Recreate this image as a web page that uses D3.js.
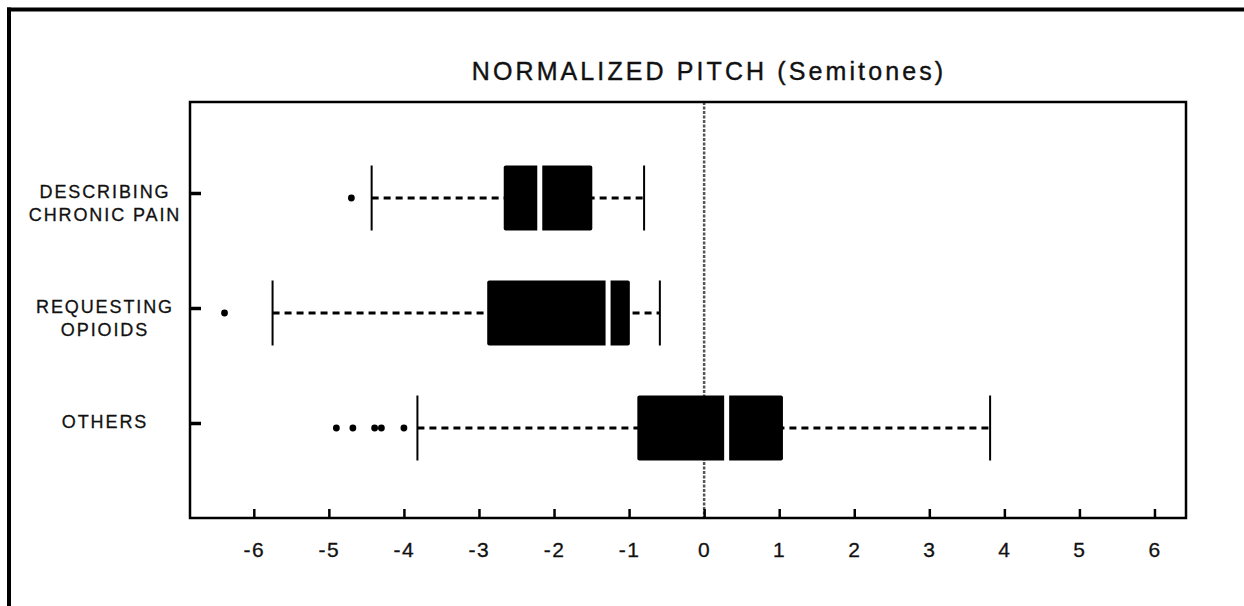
<!DOCTYPE html>
<html>
<head>
<meta charset="utf-8">
<script src="https://cdn.jsdelivr.net/npm/d3@7"></script>
<style>
  html, body { margin: 0; padding: 0; background: #fff; }
  svg { display: block; }
  text { font-family: "Liberation Sans", Arial, Helvetica, sans-serif; fill: #111; }
</style>
</head>
<body>
<svg id="chart" width="1244" height="606"></svg>
<script>
// ---- data ----
const categories = ["DESCRIBING CHRONIC PAIN", "REQUESTING OPIOIDS", "OTHERS"];
const labelLines = [["DESCRIBING", "CHRONIC PAIN"], ["REQUESTING", "OPIOIDS"], ["OTHERS"]];
const whiskerLow  = [-4.43, -5.75, -3.82];
const q1          = [-2.67, -2.89, -0.89];
const medians     = [-2.19, -1.28, 0.30];
const q3          = [-1.49, -0.99, 1.05];
const whiskerHigh = [-0.80, -0.59, 3.81];
const outliers    = [[-4.70], [-6.39], [-4.90, -4.68, -4.39, -4.30, -4.00]];
const xTicks      = [-6, -5, -4, -3, -2, -1, 0, 1, 2, 3, 4, 5, 6];
const title       = "NORMALIZED PITCH (Semitones)";

const svg = d3.select("#chart");
const plot = { left: 190, right: 1186, top: 102, bottom: 518 };

const x = d3.scaleLinear().domain([-6.85, 6.42]).range([plot.left, plot.right]);
const y = d3.scalePoint().domain(categories).range([193, 423]);
const boxH = 65, boxOff = 5;

// outer figure frame (top + left)
svg.append("line").attr("x1", 7).attr("x2", 1244).attr("y1", 9.5).attr("y2", 9.5)
  .attr("stroke", "#000").attr("stroke-width", 4);
svg.append("line").attr("x1", 9).attr("x2", 9).attr("y1", 7.5).attr("y2", 606)
  .attr("stroke", "#000").attr("stroke-width", 4);

// title
svg.append("text").attr("x", 709).attr("y", 80).attr("text-anchor", "middle")
  .style("font-size", "25px").style("letter-spacing", "3.1px")
  .style("stroke", "#111").style("stroke-width", "0.4px").text(title);

// zero reference line
svg.append("line").attr("x1", x(0)).attr("x2", x(0)).attr("y1", plot.top).attr("y2", plot.bottom)
  .attr("stroke", "#555").attr("stroke-width", 2.5).attr("stroke-dasharray", "3,1.5");

const data = categories.map((c, i) => ({
  cat: c, lines: labelLines[i], lo: whiskerLow[i], q1: q1[i], med: medians[i],
  q3: q3[i], hi: whiskerHigh[i], out: outliers[i]
}));

const g = svg.append("g").selectAll("g").data(data).join("g");

// dashed whiskers
g.append("line").attr("x1", d => x(d.lo)).attr("x2", d => x(d.hi))
  .attr("y1", d => y(d.cat) + boxOff).attr("y2", d => y(d.cat) + boxOff)
  .attr("stroke", "#000").attr("stroke-width", 3.2).attr("stroke-dasharray", "7,5");
// whisker caps
g.selectAll("line.cap").data(d => [d.lo, d.hi].map(v => ({ v, cat: d.cat }))).join("line")
  .attr("class", "cap")
  .attr("x1", e => x(e.v)).attr("x2", e => x(e.v))
  .attr("y1", e => y(e.cat) + boxOff - boxH / 2).attr("y2", e => y(e.cat) + boxOff + boxH / 2)
  .attr("stroke", "#000").attr("stroke-width", 2);
// boxes
g.append("rect").attr("x", d => x(d.q1)).attr("width", d => x(d.q3) - x(d.q1))
  .attr("y", d => y(d.cat) + boxOff - boxH / 2).attr("height", boxH)
  .attr("rx", 2).attr("fill", "#000");
// median (white gap)
g.append("line").attr("x1", d => x(d.med)).attr("x2", d => x(d.med))
  .attr("y1", d => y(d.cat) + boxOff - boxH / 2 - 1).attr("y2", d => y(d.cat) + boxOff + boxH / 2 + 1)
  .attr("stroke", "#fff").attr("stroke-width", 5);
// outliers
g.selectAll("circle").data(d => d.out.map(v => ({ v, cat: d.cat }))).join("circle")
  .attr("cx", e => x(e.v)).attr("cy", e => y(e.cat) + boxOff).attr("r", 3.4).attr("fill", "#000");

// plot frame
svg.append("rect").attr("x", plot.left).attr("y", plot.top)
  .attr("width", plot.right - plot.left).attr("height", plot.bottom - plot.top)
  .attr("fill", "none").attr("stroke", "#000").attr("stroke-width", 2.5);

// x axis (ticks pointing inward)
const xAxis = d3.axisBottom(x).tickValues(xTicks).tickSizeInner(-9).tickSizeOuter(0).tickPadding(0)
  .tickFormat(d3.format("d"));
const xg = svg.append("g").attr("transform", `translate(0,${plot.bottom})`).call(xAxis);
xg.select(".domain").remove();
xg.selectAll(".tick line").attr("stroke", "#000").attr("stroke-width", 2.5);
xg.selectAll(".tick text").attr("y", 39).attr("dy", null)
  .style("font-size", "21px").style("letter-spacing", "1.5px").style("fill", "#111")
  .style("stroke", "#111").style("stroke-width", "0.3px")
  .text(d => d < 0 ? "-" + Math.abs(d) : String(d));

// y axis ticks (inward)
const yAxis = d3.axisLeft(y).tickSizeInner(-11).tickSizeOuter(0).tickFormat("");
const yg = svg.append("g").attr("transform", `translate(${plot.left},0)`).call(yAxis);
yg.select(".domain").remove();
yg.selectAll(".tick line").attr("stroke", "#000").attr("stroke-width", 3.5);

// category labels
const lab = svg.append("g").selectAll("text").data(data).join("text")
  .attr("text-anchor", "middle").style("font-size", "18px").style("letter-spacing", "1.9px")
  .style("stroke", "#111").style("stroke-width", "0.3px");
lab.selectAll("tspan").data(d => d.lines.map((t, k) => ({ t, k, cat: d.cat }))).join("tspan")
  .attr("x", 105).attr("y", e => y(e.cat) + 5 + e.k * 23).text(e => e.t);
</script>
</body>
</html>
